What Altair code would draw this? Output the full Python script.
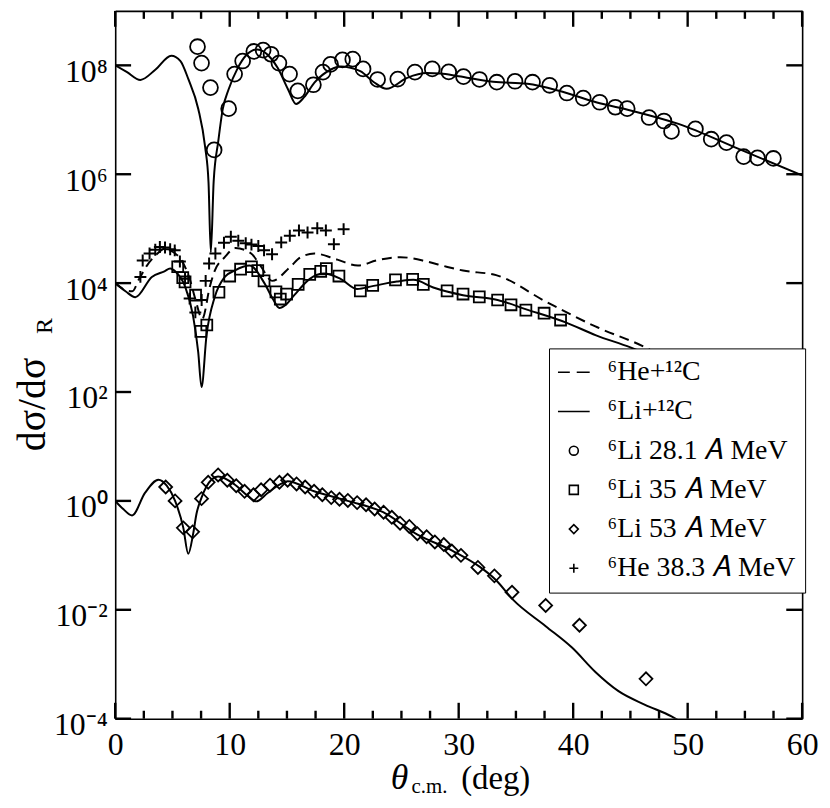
import altair as alt
import pandas as pd

SERIF = "Liberation Serif"

# ---------------- series labels (legend) ----------------
LAB_HE_CALC = "⁶He+¹²C"
LAB_LI_CALC = "⁶Li+¹²C"
LAB_LI28 = "⁶Li 28.1 𝐴 MeV"
LAB_LI35 = "⁶Li 35 𝐴 MeV"
LAB_LI53 = "⁶Li 53 𝐴 MeV"
LAB_HE38 = "⁶He 38.3 𝐴 MeV"
series_order = [LAB_HE_CALC, LAB_LI_CALC, LAB_LI28, LAB_LI35, LAB_LI53, LAB_HE38]
shape_range = ["M-3.55,0L-0.9,0M0.65,0L3.55,0", "M-3.55,0L3.55,0",
               "circle", "square", "diamond", "M-1,0L1,0M0,-1L0,1"]

# ---------------- axis ticks ----------------
x_major = [0, 10, 20, 30, 40, 50, 60]
x_minor = [2.5, 5, 7.5, 12.5, 15, 17.5, 22.5, 25, 27.5, 32.5, 35, 37.5,
           42.5, 45, 47.5, 52.5, 55, 57.5]
y_tick_values = [1e-4, 1e-2, 1, 1e2, 1e4, 1e6, 1e8]
y_tick_labels = ["10⁻⁴", "10⁻²", "10⁰", "10²", "10⁴", "10⁶", "10⁸"]

# ---------------- data: 6Li 28.1 A MeV ----------------
li28_theta = [7.19, 7.54, 8.32, 8.64, 9.91, 10.43, 11.13, 12.11, 12.92, 13.61,
              14.30, 15.23, 15.95, 17.31, 18.15, 18.81, 19.85, 20.75, 21.65, 22.92,
              24.68, 26.18, 27.69, 29.13, 30.42, 31.82, 33.33, 34.92, 36.45, 37.95,
              39.45, 40.88, 42.32, 43.68, 44.72, 46.63, 47.93, 48.59, 50.68, 52.06,
              53.39, 54.89, 56.10, 57.49]
li28_sigma = [2.2e8, 1.1e8, 3.9e7, 2.8e6, 1.6e7, 6.9e7, 1.2e8, 1.8e8, 1.9e8, 1.6e8,
              1.1e8, 6.9e7, 3.4e7, 4.4e7, 7.5e7, 1.04e8, 1.26e8, 1.3e8, 8.6e7, 5.5e7,
              5.6e7, 7.5e7, 8.6e7, 7.6e7, 6.2e7, 5.5e7, 4.9e7, 5.1e7, 4.9e7, 4.3e7,
              3.1e7, 2.5e7, 2.1e7, 1.7e7, 1.6e7, 1.1e7, 9.5e6, 6.1e6, 6.8e6, 4.4e6,
              3.8e6, 2.1e6, 2.0e6, 1.95e6]
li28_calc_theta = [0, 1.0, 2.2, 3.5, 4.9, 5.7, 6.4, 7.25, 7.85, 8.15, 8.35, 8.6, 9.0,
                   9.4, 9.9, 10.7, 11.4, 12.4, 13.6, 14.2, 15.1, 15.8, 16.5, 17.4,
                   18.8, 19.7, 21.4, 22.6, 23.7, 25.5, 27.2, 28.4, 30.0, 33.0, 36.0,
                   39.0, 42.0, 45.1, 49.2, 54.4, 60.0]
li28_calc_sigma = [1.0e8, 7.6e7, 5.4e7, 8.3e7, 1.5e8, 1.2e8, 5.5e7, 1.6e7, 3.2e6,
                   7.1e5, 3.7e4, 7.4e5, 4.0e6, 1.6e7, 3.6e7, 8.9e7, 1.5e8, 1.95e8,
                   1.35e8, 8.9e7, 3.6e7, 1.95e7, 2.6e7, 4.8e7, 8.3e7, 9.5e7, 7.8e7,
                   4.9e7, 3.7e7, 5.9e7, 7.2e7, 7.1e7, 6.3e7, 5.0e7, 4.6e7, 3.3e7,
                   2.1e7, 1.47e7, 8.4e6, 2.95e6, 9.5e5]

# ---------------- data: 6Li 35 A MeV ----------------
li35_theta = [5.46, 5.9, 6.1, 7.02, 7.48, 8.0, 9.06, 10.0, 10.95, 11.9, 12.45, 13.0,
              14.04, 14.42, 14.97, 15.98, 16.99, 17.95, 18.44, 19.54, 21.41, 22.49,
              24.48, 25.98, 26.91, 28.99, 30.38, 31.8, 33.4, 34.57, 35.87, 37.46, 38.9]
li35_sigma = [2.0e4, 1.26e4, 1.05e4, 6.0e3, 1.3e3, 1.7e3, 6.8e3, 1.35e4, 1.8e4, 2.0e4,
              1.7e4, 1.1e4, 6.9e3, 5.1e3, 6.3e3, 9.5e3, 1.45e4, 1.65e4, 1.85e4, 1.35e4,
              7.2e3, 9.1e3, 1.15e4, 1.17e4, 9.5e3, 7.2e3, 6.3e3, 5.6e3, 4.9e3, 4.0e3,
              3.2e3, 2.8e3, 2.1e3]
li35_calc_theta = [0, 0.9, 1.76, 3.2, 4.3, 4.8, 5.3, 6.1, 6.8, 7.25, 7.54, 7.97, 8.7,
                   9.57, 10.43, 11.73, 13.03, 13.8, 14.33, 15.0, 15.64, 17.0, 18.24,
                   19.68, 21.13, 22.57, 24.6, 26.05, 27.78, 30.38, 33.4, 35.9, 39.34,
                   42.0, 45.0, 48.0]
li35_calc_sigma = [1.0e4, 7.1e3, 5.5e3, 1.3e4, 1.65e4, 1.85e4, 1.6e4, 8.7e3, 2.5e3,
                   540, 123, 1.07e3, 5.6e3, 1.3e4, 1.7e4, 2.1e4, 1.0e4, 5.0e3, 3.5e3,
                   4.2e3, 6.0e3, 1.2e4, 1.5e4, 1.2e4, 7.8e3, 8.9e3, 1.07e4, 1.15e4,
                   8.3e3, 6.0e3, 4.9e3, 3.3e3, 1.9e3, 1.1e3, 660, 355]

# ---------------- data: 6Li 53 A MeV ----------------
li53_theta = [4.41, 5.23, 5.95, 6.76, 7.54, 8.12, 8.99, 9.79, 10.57, 11.3, 12.08,
              12.74, 13.52, 14.34, 15.06, 15.84, 16.59, 17.37, 18.09, 18.87, 19.59,
              20.32, 21.13, 21.91, 22.66, 23.44, 24.16, 24.88, 25.69, 26.39, 27.2,
              27.92, 28.7, 29.4, 30.2, 31.68, 33.12, 34.66, 37.6, 40.55, 46.36]
li53_sigma = [1.8, 1.0, 0.32, 0.27, 1.1, 2.2, 3.0, 2.4, 1.9, 1.5, 1.3, 1.6, 1.95, 2.2,
              2.4, 2.05, 1.8, 1.5, 1.3, 1.15, 1.07, 1.02, 0.93, 0.85, 0.71, 0.62, 0.50,
              0.39, 0.34, 0.25, 0.22, 0.176, 0.158, 0.12, 0.10, 0.060, 0.042, 0.021,
              0.012, 0.0052, 5.4e-4]
li53_calc_theta = [0, 0.7, 1.47, 2.6, 3.78, 4.5, 5.23, 5.95, 6.38, 6.81, 7.1, 7.54,
                   8.4, 8.99, 10.43, 11.59, 12.31, 13.32, 14.47, 15.06, 17.37, 20.3,
                   23.4, 26.4, 29.51, 31.82, 33.27, 34.72, 37.6, 39.92, 41.94, 43.96,
                   46.28, 48.59, 49.2]
li53_calc_sigma = [1.0, 0.71, 0.54, 1.4, 2.45, 1.9, 1.0, 0.32, 0.107, 0.25, 0.58, 1.15,
                   2.45, 2.8, 2.0, 1.23, 0.98, 1.4, 2.05, 2.3, 1.5, 1.0, 0.62, 0.24,
                   0.12, 0.062, 0.035, 0.0155, 0.0050, 0.0020, 7.2e-4, 3.2e-4, 1.8e-4,
                   1.1e-4, 9.3e-5]

# ---------------- data: 6He 38.3 A MeV ----------------
he38_theta = [2.2, 2.4, 3.0, 3.5, 3.9, 4.35, 4.8, 5.2, 5.65, 6.1, 6.5, 7.0, 7.55, 7.9,
              8.2, 8.75, 9.5, 10.1, 10.75, 11.4, 11.9, 12.5, 13.0, 13.7, 14.5, 15.25,
              16.05, 16.8, 17.65, 18.4, 19.1, 19.95]
he38_sigma = [1.3e4, 2.6e4, 3.5e4, 4.1e4, 4.6e4, 4.5e4, 4.2e4, 4.0e4, 2.5e4, 1.2e4,
              5.2e3, 2.9e3, 4.9e3, 1.1e4, 2.3e4, 3.5e4, 5.5e4, 7.1e4, 6.0e4, 5.4e4,
              5.1e4, 4.8e4, 4.0e4, 3.4e4, 5.6e4, 7.4e4, 9.3e4, 8.5e4, 1.02e5, 9.3e4,
              5.2e4, 9.8e4]
he_calc_theta = [0, 0.8, 1.5, 2.05, 2.77, 3.5, 4.36, 5.0, 5.95, 6.53, 7.02, 7.6, 8.27,
                 8.7, 9.57, 10.5, 11.87, 12.74, 13.7, 15.3, 16.2, 17.4, 19.4, 21.2,
                 22.8, 24.9, 27.2, 28.94, 30.38, 33.27, 37.6, 41.94, 46.3, 49.0]
he_calc_sigma = [1.0e4, 7.6e3, 7.1e3, 1.15e4, 2.1e4, 3.2e4, 4.3e4, 3.8e4, 2.3e4,
                 1.15e4, 4.9e3, 2.2e3, 8.7e3, 1.7e4, 3.0e4, 4.4e4, 3.5e4, 2.0e4,
                 1.1e4, 2.0e4, 3.0e4, 3.5e4, 2.7e4, 2.1e4, 2.6e4, 3.0e4, 2.5e4,
                 2.0e4, 1.7e4, 1.4e4, 4.6e3, 1.6e3, 660, 320]

# ---------------- tables ----------------
points = pd.concat([
    pd.DataFrame({"theta": li28_theta, "sigma": li28_sigma, "series": LAB_LI28}),
    pd.DataFrame({"theta": li35_theta, "sigma": li35_sigma, "series": LAB_LI35}),
    pd.DataFrame({"theta": li53_theta, "sigma": li53_sigma, "series": LAB_LI53}),
    pd.DataFrame({"theta": he38_theta, "sigma": he38_sigma, "series": LAB_HE38}),
], ignore_index=True)
solid = pd.concat([
    pd.DataFrame({"theta": li28_calc_theta, "sigma": li28_calc_sigma, "curve": "28"}),
    pd.DataFrame({"theta": li35_calc_theta, "sigma": li35_calc_sigma, "curve": "35"}),
    pd.DataFrame({"theta": li53_calc_theta, "sigma": li53_calc_sigma, "curve": "53"}),
], ignore_index=True)
dashed = pd.DataFrame({"theta": he_calc_theta, "sigma": he_calc_sigma})
xmajor_df = pd.DataFrame({"theta": x_major})
xminor_df = pd.DataFrame({"theta": x_minor})
ytick_df = pd.DataFrame({"sigma": y_tick_values})

# ---------------- scales / axes ----------------
W, H = 692, 713
MAJ, MIN = 16, 8
xs = alt.Scale(domain=[0, 60], nice=False, zero=False)
ys = alt.Scale(type="log", domain=[1e-4, 1e9], nice=False)

label_expr = "'" + y_tick_labels[-1] + "'"
for v, lab in list(zip(y_tick_values, y_tick_labels))[-2::-1]:
    label_expr = f"datum.value < {v * 3:g} ? '{lab}' : ({label_expr})"


def ax(orient, values, **kw):
    base = dict(orient=orient, values=values, ticks=False,
                grid=False, labels=False, domain=False, title=None,
                domainColor="black", domainWidth=1.6, labelFont=SERIF,
                labelFontSize=32, labelColor="black", titleFont=SERIF,
                titleColor="black", titleFontWeight="normal")
    base.update(kw)
    return alt.Axis(**base)


legend_def = alt.Legend(
    orient="none", legendX=437, legendY=340, title=None,
    fillColor="white", strokeColor="black", padding=10,
    labelFont=SERIF, labelFontSize=28, labelColor="black", labelLimit=400,
    symbolSize=81, symbolStrokeWidth=1.6, symbolStrokeColor="black",
    symbolFillColor="white", rowPadding=11.5, symbolOffset=1, labelOffset=20,
)
shape_enc = alt.Shape("series:N", scale=alt.Scale(domain=series_order, range=shape_range),
                      legend=legend_def)

# solid calculations -- labelled bottom and left axes (frame lines)
l_solid = alt.Chart(solid).mark_line(
    color="black", strokeWidth=2, interpolate="monotone", clip=True
).encode(
    x=alt.X("theta:Q", scale=xs, axis=ax(
        "bottom", x_major, labels=True, domain=True, format="d", labelPadding=11,
        labelFlush=False, labelOverlap=False, labelBaseline="top",
        title="θ", titleFontStyle="italic", titleFontSize=36,
        titleX=277, titleY=70, titleAlign="left", titleBaseline="alphabetic")),
    y=alt.Y("sigma:Q", scale=ys, axis=ax(
        "left", y_tick_values, labels=True, domain=True, labelExpr=label_expr,
        labelPadding=8, labelOverlap=False, labelFlush=False, labelOffset=6,
        labelBaseline="middle",
        title="dσ/dσ", titleFontSize=40, titleX=-83, titleY=443,
        titleAlign="left", titleAngle=270, titleBaseline="middle")),
    detail="curve:N",
)

# dashed 6He calculation -- top and right frame lines, "(deg)"
l_dash = alt.Chart(dashed).mark_line(
    color="black", strokeWidth=2, strokeDash=[10, 6], interpolate="monotone", clip=True
).encode(
    x=alt.X("theta:Q", scale=xs, axis=ax(
        "top", x_major, domain=True,
        title="(deg)", titleFontSize=33, titleX=348, titleY=783,
        titleAlign="left", titleBaseline="alphabetic")),
    y=alt.Y("sigma:Q", scale=ys, axis=ax("right", y_tick_values, domain=True)),
)


def pts(label, size, sw=1.8):
    return alt.Chart(points).transform_filter(alt.datum.series == label).mark_point(
        size=size, filled=False, strokeWidth=sw, color="black", opacity=1
    )


# circles -- carry the "c.m." subscript and the "R" subscript
l_circ = pts(LAB_LI28, 225).encode(
    x=alt.X("theta:Q", scale=xs, axis=ax(
        "bottom", x_major,
        title="c.m.", titleFontSize=21, titleX=298, titleY=74,
        titleAlign="left", titleBaseline="alphabetic")),
    y=alt.Y("sigma:Q", scale=ys, axis=ax(
        "left", y_tick_values,
        title="R", titleFontSize=24, titleX=-71, titleY=325, titleAlign="left",
        titleAngle=270, titleBaseline="middle")),
    shape=shape_enc,
)
l_sq = pts(LAB_LI35, 121).encode(
    x=alt.X("theta:Q", scale=xs, axis=None),
    y=alt.Y("sigma:Q", scale=ys, axis=None),
    shape=shape_enc,
)
l_dia = pts(LAB_LI53, 169).encode(
    x=alt.X("theta:Q", scale=xs, axis=None),
    y=alt.Y("sigma:Q", scale=ys, axis=None),
    shape=shape_enc,
)
l_plus = pts(LAB_HE38, 144, 2).encode(
    x=alt.X("theta:Q", scale=xs, axis=None),
    y=alt.Y("sigma:Q", scale=ys, axis=None),
    shape=shape_enc,
)


# inward tick marks at the tick values, drawn through the shared scales
def xticks(df, y0, y1):
    return alt.Chart(df).mark_rule(color="#000000", strokeWidth=2.4).encode(
        x=alt.X("theta:Q", scale=xs, axis=None),
        y=alt.value(y0), y2=alt.value(y1))


def yticks(x0, x1):
    return alt.Chart(ytick_df).mark_rule(color="#000000", strokeWidth=2.4).encode(
        y=alt.Y("sigma:Q", scale=ys, axis=None),
        x=alt.value(x0), x2=alt.value(x1))


tick_layers = [
    xticks(xmajor_df, H, H - MAJ), xticks(xminor_df, H, H - MIN),
    xticks(xmajor_df, 0, MAJ), xticks(xminor_df, 0, MIN),
    yticks(0, MAJ), yticks(W, W - MAJ),
]

chart = alt.layer(
    l_solid, l_dash, l_circ, l_sq, l_dia, l_plus, *tick_layers
).resolve_axis(
    x="independent", y="independent"
).properties(
    width=W, height=H,
    padding={"left": 108, "top": 0, "right": 20, "bottom": 79},
    autosize=alt.AutoSizeParams(type="none"),
    background="white",
).configure_view(stroke=None)

chart.save("out.html", embed_options={"renderer": "svg", "actions": False})
